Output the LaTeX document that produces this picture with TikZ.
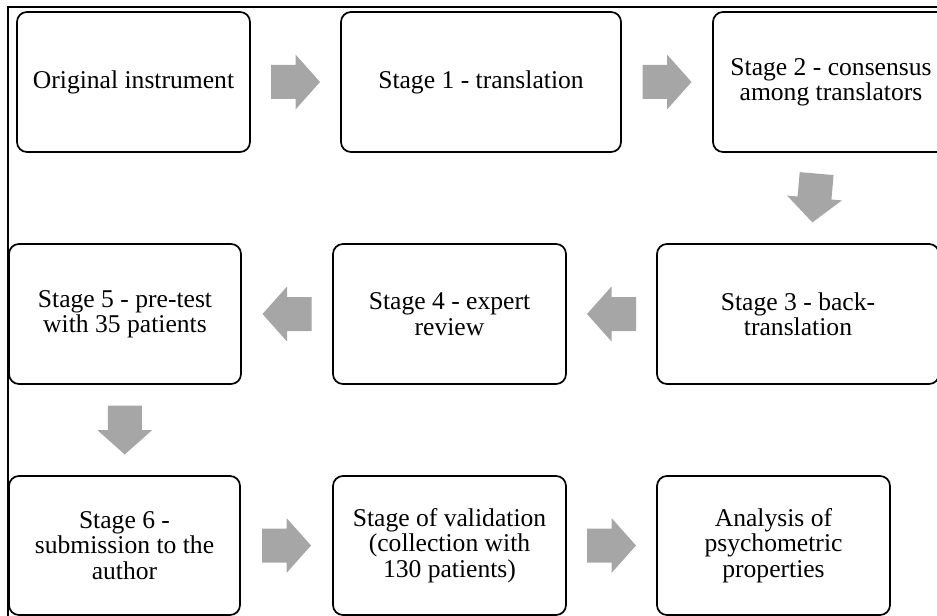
\documentclass[tikz,border=0pt]{standalone}
\usepackage{fontspec}
\setmainfont{Liberation Serif}
\usetikzlibrary{calc}
\definecolor{arrowgray}{HTML}{A6A6A6}
\tikzset{
  box/.style={draw=black, line width=1.3pt, rounded corners=7.5pt, align=center,
    inner sep=0pt, outer sep=0pt,
    font={\fontsize{19.2}{19}\selectfont\lineskiplimit=-50pt\lineskip=0pt}},
  barrow/.pic={\fill[arrowgray] (-24.5,-17) -- (0,-17) -- (0,-27.5) -- (24.5,0) -- (0,27.5) -- (0,17) -- (-24.5,17) -- cycle;},
  frameline/.style={draw=black, line width=0.9pt}
}
\begin{document}
\begin{tikzpicture}[x=0.75pt,y=-0.75pt]
\useasboundingbox (0,0) rectangle (937,616);
\draw[frameline] (8,630) -- (8,7) -- (950,7);
% row 1
\node[box, minimum width=174.75pt, minimum height=105pt] (b0) at (133.5,82) {Original instrument};
\node[box, minimum width=210pt, minimum height=105pt] (b1) at (481,82) {Stage 1 - translation};
\node[box, minimum width=177pt, minimum height=105pt] (b2) at (831,82) {Stage 2 - consensus\\among translators};
% row 2
\node[box, minimum width=211.5pt, minimum height=105pt] (b3) at (798,314) {Stage 3 - back-\\translation};
\node[box, minimum width=174.75pt, minimum height=105pt] (b4) at (449.5,314) {Stage 4 - expert\\review};
\node[box, minimum width=174pt, minimum height=105pt] (b5) at (125,314) {Stage 5 - pre-test\\with 35 patients};
% row 3
\node[box, minimum width=173.25pt, minimum height=104.25pt] (b6) at (124.5,545.5) {Stage 6 -\\submission to the\\author};
\node[box, minimum width=174.75pt, minimum height=104.25pt] (b7) at (449.5,545.5) {Stage of validation\\(collection with\\130 patients)};
\node[box, minimum width=174.75pt, minimum height=104.25pt] (b8) at (773.5,545.5) {Analysis of\\psychometric\\properties};
% block arrows
\pic at ($(b0.east)!0.5!(b1.west)$) {barrow};
\pic at ($(b1.east)!0.5!(b2.west)$) {barrow};
\pic[rotate=-95] at ($(b2.south)!0.5!(b3.north)$) {barrow};
\pic[rotate=180] at ($(b3.west)!0.5!(b4.east)$) {barrow};
\pic[rotate=180] at ($(b4.west)!0.5!(b5.east)$) {barrow};
\pic[rotate=-90] at ($(b5.south)!0.5!(b6.north)$) {barrow};
\pic at ($(b6.east)!0.5!(b7.west)$) {barrow};
\pic at ($(b7.east)!0.5!(b8.west)$) {barrow};
\end{tikzpicture}
\end{document}
